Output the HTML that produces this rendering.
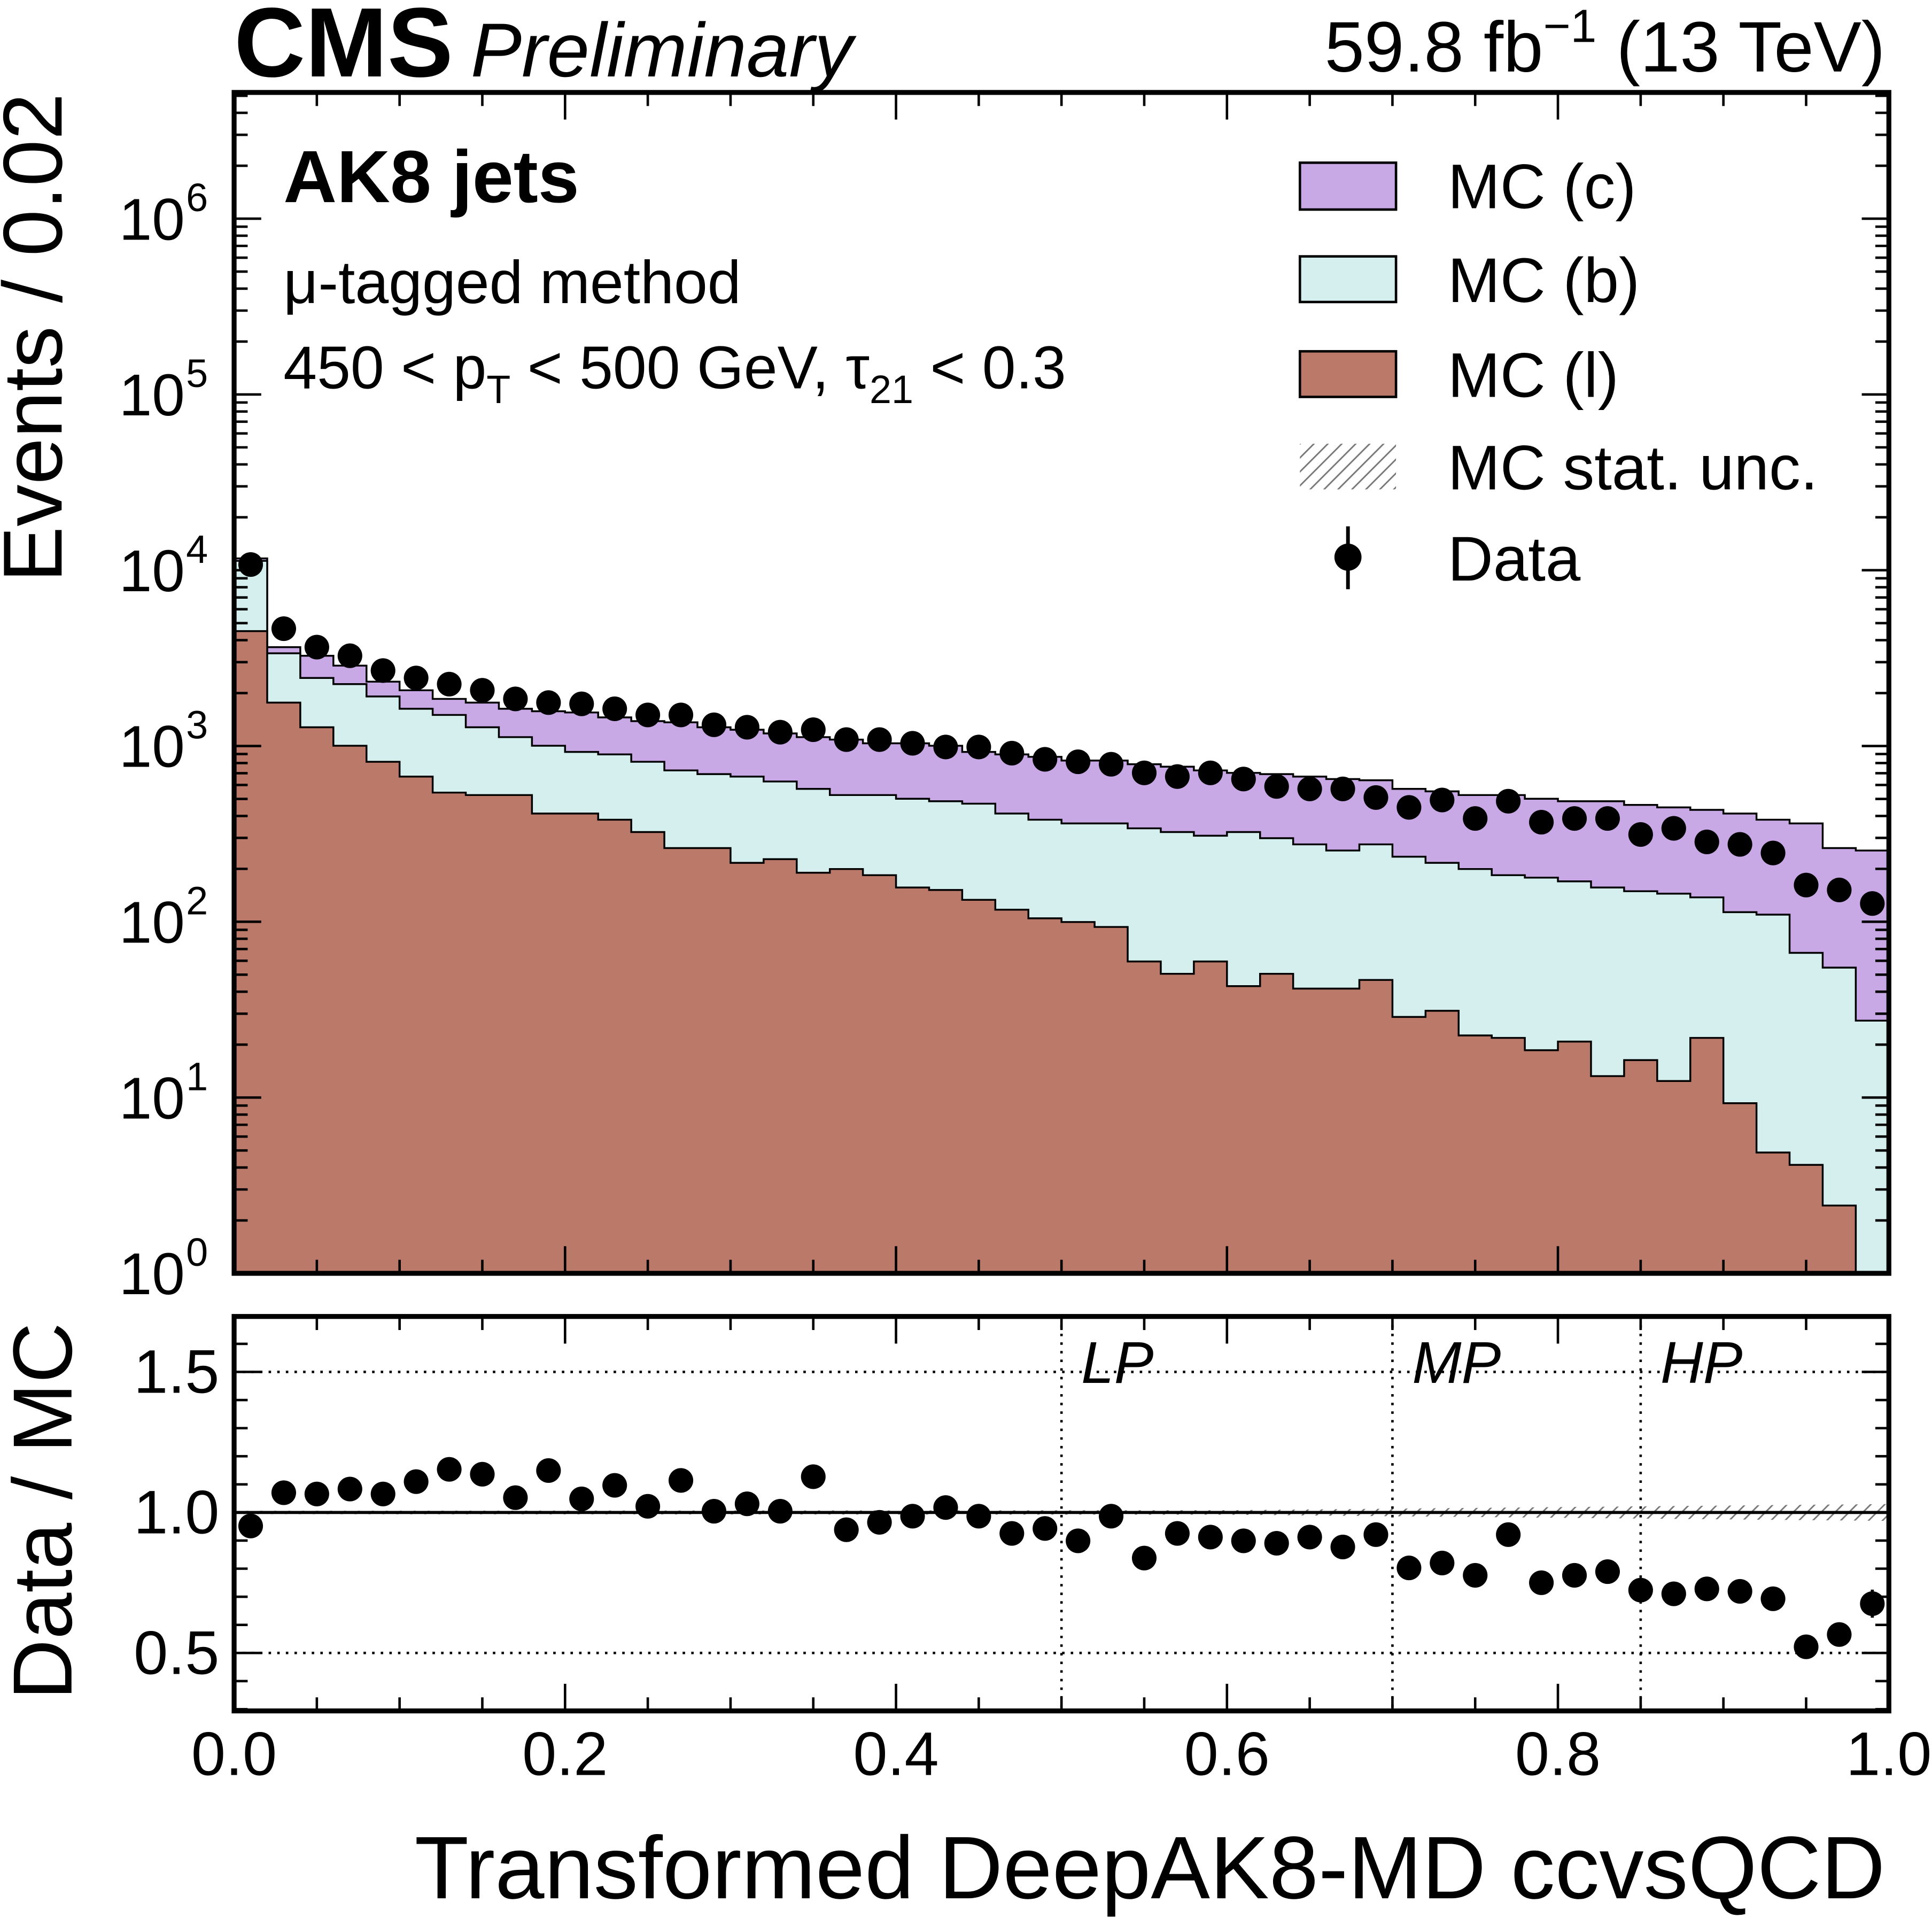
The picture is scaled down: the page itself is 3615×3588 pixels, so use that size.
<!DOCTYPE html>
<html><head><meta charset="utf-8">
<style>
html,body{margin:0;padding:0;background:#fff;}
svg{display:block;}
text{font-family:"Liberation Sans",Arial,sans-serif;fill:#000;}
</style></head>
<body>
<svg id="chart" width="3615" height="3588" viewBox="0 0 1568 1556" preserveAspectRatio="none" xmlns="http://www.w3.org/2000/svg">
<defs>
<pattern id="hatch" patternUnits="userSpaceOnUse" width="8" height="8" patternTransform="rotate(45)">
<line x1="0" y1="0" x2="0" y2="8" stroke="#777" stroke-width="2.5"/>
</pattern>
<clipPath id="mainclip"><rect x="190" y="75" width="1343" height="958"/></clipPath>
<clipPath id="ratioclip"><rect x="190" y="1068" width="1343" height="320"/></clipPath>
</defs>
<g id="main" clip-path="url(#mainclip)"></g>
<g id="ratio" clip-path="url(#ratioclip)"></g>
<g id="axes"></g>
</svg>
<script>
// ---- data (bins of 0.02 from 0 to 1) ----
const binEdgesStart = 0, binWidth = 0.02;
const mcTotalY = [453,525,532,540,553,560,567,570,575,577,578,582,585,586,590,592,595,598,600,603,603,605,610,612,614,617,617,620,622,625,627,628,630,632,633,640,642,645,645,648,650,650,653,655,657,660,665,668,688,690];
const mcBLY = [455,530,550,555,565,575,580,590,598,605,610,612,618,625,628,630,634,640,645,645,648,650,652,660,665,668,668,672,675,678,675,680,685,690,685,695,700,705,710,712,715,720,723,725,728,740,742,773,785,828];
const mcLY = [512,570,590,605,618,630,643,645,645,660,660,665,675,688,688,700,697,708,705,710,720,722,730,738,745,748,752,780,790,780,800,790,802,802,795,825,820,840,842,852,845,873,860,877,842,895,935,945,978,1100];
const dataY = [458,510,525,532,544,550,555,560,567,570,571,575,580,580,588,590,594,592,600,600,603,606,606,611,616,618,620,627,630,627,632,638,640,640,647,655,649,664,650,667,664,664,677,672,683,685,692,718,722,733];
const ratioY = [1238,1211,1212,1208,1212,1202,1192,1196,1215,1193,1216,1205,1222,1201,1226,1220,1226,1198,1241,1235,1230,1223,1230,1244,1240,1250,1230,1264,1244,1247,1250,1252,1247,1255,1245,1272,1268,1278,1245,1284,1278,1275,1290,1293,1289,1291,1297,1336,1326,1301];
const toVal = y => Math.pow(10,(1033-y)/142.6);
const mcTotal = mcTotalY.map(toVal), mcBL = mcBLY.map(toVal), mcL = mcLY.map(toVal);
const dataVals = dataY.map(toVal);
const ratioVals = ratioY.map(y=>1-(y-1227)/228);
const xTicks = [0,0.2,0.4,0.6,0.8,1.0];
const xTickLabels = ["0.0","0.2","0.4","0.6","0.8","1.0"];
const yDecades = [0,1,2,3,4,5,6];
const rTicks = [0.5,1.0,1.5];
const rTickLabels = ["0.5","1.0","1.5"];
const wpLines = [0.5,0.7,0.85];
const wpLabels = ["LP","MP","HP"];

const X0=190,X1=1533,MT=75,MB=1033,RT=1068,RB=1388;
const sx = v => X0 + v*(X1-X0);
const sy = v => MB - Math.log10(Math.max(v,1e-3))*142.6;
const sr = v => 1227 - (v-1)*228;
const NS="http://www.w3.org/2000/svg";
function mk(tag,attrs,parent){const e=document.createElementNS(NS,tag);for(const k in attrs)e.setAttribute(k,attrs[k]);parent.appendChild(e);return e;}
const main=document.getElementById('main'), ratio=document.getElementById('ratio'), axes=document.getElementById('axes');

function stepPath(vals,closed){
  let d='';
  vals.forEach((v,i)=>{const xa=sx(binEdgesStart+i*binWidth), xb=sx(binEdgesStart+(i+1)*binWidth), y=sy(v);
    d += (i===0?(closed?`M${xa},${MB+5}L${xa},${y}`:`M${xa},${y}`):`L${xa},${y}`)+`L${xb},${y}`;});
  if(closed) d+=`L${sx(1)},${MB+5}Z`;
  return d;
}
const pc=mk('path',{d:stepPath(mcTotal,true),fill:'#c8a9e5',stroke:'#000','stroke-width':1.5},main);


const pb=mk('path',{d:stepPath(mcBL,true),fill:'#d5efee',stroke:'#000','stroke-width':1.5},main);


const pl=mk('path',{d:stepPath(mcL,true),fill:'#bb7a69',stroke:'#000','stroke-width':1.5},main);


dataVals.forEach((v,i)=>{
  const c=mk('circle',{cx:sx((i+0.5)*binWidth),cy:sy(v),r:10,fill:'#000'},main);
  
  
});
const hb=mk('path',{d:`M${sx(0)},${sr(1.006)}L${sx(0.6)},${sr(1.008)}L${sx(1)},${sr(1.03)}L${sx(1)},${sr(0.97)}L${sx(0.6)},${sr(0.992)}L${sx(0)},${sr(0.994)}Z`,fill:'url(#hatch)'},ratio);


mk('line',{x1:X0,x2:X1,y1:sr(1),y2:sr(1),stroke:'#000','stroke-width':2.5},ratio);
[0.5,1.5].forEach(v=>mk('line',{x1:X0,x2:X1,y1:sr(v),y2:sr(v),stroke:'#000','stroke-width':2,'stroke-dasharray':'2,5'},ratio));
wpLines.forEach((v,i)=>{
  mk('line',{x1:sx(v),x2:sx(v),y1:RT,y2:RB,stroke:'#000','stroke-width':2,'stroke-dasharray':'2,5'},ratio);
  const t=mk('text',{x:sx(v)+16,y:1122,'font-size':48,'font-style':'italic'},ratio);t.textContent=wpLabels[i];
  
  
});
ratioVals.forEach((v,i)=>{
  const c=mk('circle',{cx:sx((i+0.5)*binWidth),cy:sr(v),r:10,fill:'#000'},ratio);
  
  
});
mk('line',{x1:sx(0.99),x2:sx(0.99),y1:sr(ratioVals[49]+0.05),y2:sr(ratioVals[49]-0.05),stroke:'#000','stroke-width':2.5},ratio);

mk('rect',{x:X0,y:MT,width:X1-X0,height:MB-MT,fill:'none',stroke:'#000','stroke-width':4},axes);
mk('rect',{x:X0,y:RT,width:X1-X0,height:RB-RT,fill:'none',stroke:'#000','stroke-width':4},axes);
for(let k=0;k<=20;k++){const v=k*0.05,x=sx(v),L=(k%4===0)?22:11;
  [[MT,1],[MB,-1],[RT,1],[RB,-1]].forEach(([y,d])=>mk('line',{x1:x,x2:x,y1:y,y2:y+d*L,stroke:'#000','stroke-width':2},axes));}
xTicks.forEach((v,i)=>{const t=mk('text',{x:sx(v),y:1440,'font-size':50,'text-anchor':'middle'},axes);t.textContent=xTickLabels[i];
  
  });
for(let d=0;d<=6;d++){for(let m=1;m<=9;m++){const v=m*Math.pow(10,d),y=sy(v);if(y<MT)continue;const L=m===1?22:11;
  mk('line',{x1:X0,x2:X0+L,y1:y,y2:y,stroke:'#000','stroke-width':2},axes);
  mk('line',{x1:X1,x2:X1-L,y1:y,y2:y,stroke:'#000','stroke-width':2},axes);}}
yDecades.forEach(d=>{const t=mk('text',{x:150,y:sy(Math.pow(10,d))+17,'font-size':48,'text-anchor':'end'},axes);t.textContent='10';
  
  
  const s=mk('text',{x:151,y:sy(Math.pow(10,d))-6,'font-size':32},axes);s.textContent=String(d);});
for(let k=3;k<=17;k++){const v=k/10,y=sr(v),L=(k%5===0)?22:11;
  mk('line',{x1:X0,x2:X0+L,y1:y,y2:y,stroke:'#000','stroke-width':2},axes);
  mk('line',{x1:X1,x2:X1-L,y1:y,y2:y,stroke:'#000','stroke-width':2},axes);}
rTicks.forEach((v,i)=>{const t=mk('text',{x:178,y:sr(v)+17,'font-size':50,'text-anchor':'end'},axes);t.textContent=rTickLabels[i];
  
  });
</script>
<svg style="position:absolute;left:0;top:0" width="3615" height="3588" viewBox="0 0 1568 1556" preserveAspectRatio="none" xmlns="http://www.w3.org/2000/svg">
<text x="190" y="62" font-size="80" font-weight="bold">CMS</text>
<text x="382" y="62" font-size="62" font-style="italic">Preliminary</text>
<text x="1530" y="58" font-size="58" text-anchor="end">59.8 fb<tspan font-size="38" dy="-24">−1</tspan><tspan dy="24"> (13 TeV)</tspan></text>
<text transform="translate(50,274) rotate(-90)" font-size="68" text-anchor="middle">Events / 0.02</text>
<text transform="translate(58,1226) rotate(-90)" font-size="68" text-anchor="middle">Data / MC</text>
<text x="1530" y="1540" font-size="72" text-anchor="end">Transformed DeepAK8-MD ccvsQCD</text>
<text x="230" y="164" font-size="60" font-weight="bold">AK8 jets</text>
<text x="230" y="246" font-size="49">μ-tagged method</text>
<text x="230" y="315" font-size="49">450 &lt; p<tspan font-size="32" dy="12">T</tspan><tspan dy="-12"> &lt; 500 GeV, τ</tspan><tspan font-size="32" dy="12">21</tspan><tspan dy="-12"> &lt; 0.3</tspan></text>
<g>
<rect x="1055" y="132" width="78" height="38" fill="#c8a9e5" stroke="#000" stroke-width="2"/>
<text x="1175" y="169" font-size="51">MC (c)</text>
<rect x="1055" y="208" width="78" height="37" fill="#d5efee" stroke="#000" stroke-width="2"/>
<text x="1175" y="245" font-size="51">MC (b)</text>
<rect x="1055" y="285" width="78" height="37" fill="#bb7a69" stroke="#000" stroke-width="2"/>
<text x="1175" y="322" font-size="51">MC (l)</text>
<rect x="1055" y="360" width="78" height="37" fill="url(#hatch)"/>
<text x="1175" y="397" font-size="51">MC stat. unc.</text>
<line x1="1094" y1="427" x2="1094" y2="478" stroke="#000" stroke-width="3"/>
<circle cx="1094" cy="452" r="11" fill="#000"/>
<text x="1175" y="471" font-size="51">Data</text>
</g>
</svg>
</body></html>
